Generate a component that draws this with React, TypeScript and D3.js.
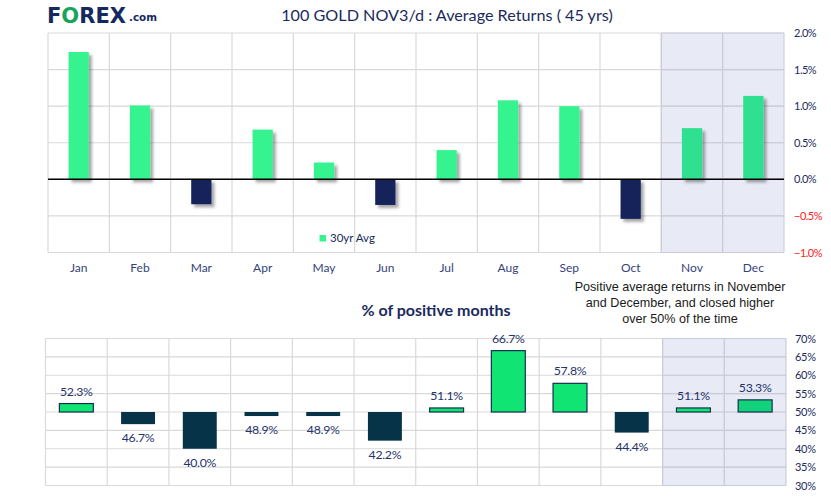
import React from "react";
import * as d3 from "d3";

const months = ["Jan", "Feb", "Mar", "Apr", "May", "Jun", "Jul", "Aug", "Sep", "Oct", "Nov", "Dec"];
const avgReturns = [1.74, 1.01, -0.34, 0.68, 0.23, -0.35, 0.40, 1.08, 1.00, -0.54, 0.70, 1.14];
const positivePct = [52.3, 46.7, 40.0, 48.9, 48.9, 42.2, 51.1, 66.7, 57.8, 44.4, 51.1, 53.3];
const topTicks = [2.0, 1.5, 1.0, 0.5, 0.0, -0.5, -1.0];
const bottomTicks = [70, 65, 60, 55, 50, 45, 40, 35, 30];
const highlighted = ["Nov", "Dec"];
const annotation = [
  "Positive average returns in November",
  "and December, and closed higher",
  "over 50% of the time",
];

const W = 831;
const H = 501;
const NAVY = "#1b2a5c";
const FONT = "Lato, 'Open Sans', sans-serif";

export default function App() {
  // top chart
  const tx = d3.scaleBand<string>().domain(months).range([48, 784]).paddingInner(0).paddingOuter(0);
  const ty = d3.scaleLinear().domain([-1, 2]).range([252.5, 33]);
  const tBarW = tx.bandwidth() * 0.33;

  // bottom chart
  const bx = d3.scaleBand<string>().domain(months).range([45.5, 786]).paddingInner(0).paddingOuter(0);
  const by = d3.scaleLinear().domain([30, 70]).range([485.5, 338.5]);
  const bBarW = bx.bandwidth() * 0.55;

  return (
    <svg width={W} height={H} style={{ position: "absolute", left: 0, top: 0, background: "#fff" }}>
      <defs>
        <filter id="shadow" x="-30%" y="-30%" width="180%" height="180%">
          <feDropShadow dx="3" dy="3" stdDeviation="1.6" floodColor="#000" floodOpacity="0.35" />
        </filter>
      </defs>
      <rect x={0} y={0} width={W} height={H} fill="#fff" />

      {/* Logo */}
      <text x={47} y={23} fontFamily="'DejaVu Sans', Verdana, sans-serif" fontWeight="bold" fontSize={21} fill="#142a5e" textLength={79} lengthAdjust="spacingAndGlyphs">
        F<tspan fill="#1aa35a">O</tspan>REX
      </text>
      <text x={129} y={21} fontFamily="'DejaVu Sans', Verdana, sans-serif" fontWeight="bold" fontSize={10.5} fill="#142a5e" textLength={28} lengthAdjust="spacingAndGlyphs">.com</text>

      {/* Title */}
      <text x={447} y={20.5} textAnchor="middle" fontFamily={FONT} fontSize={16.2} fill={NAVY}>
        100 GOLD NOV3/d : Average Returns ( 45 yrs)
      </text>

      {/* ---------- Top chart ---------- */}
      {highlighted.map((m) => (
        <rect key={"th" + m} x={tx(m)} y={ty(2)} width={tx.bandwidth()} height={ty(-1) - ty(2)} fill="#e8eaf6" />
      ))}
      {topTicks.map((t) => (
        <line key={"tg" + t} x1={48} x2={784} y1={ty(t)} y2={ty(t)} stroke="#d9d9d9" strokeWidth={1.2} />
      ))}
      {months.map((m) => (
        <line key={"tv" + m} x1={tx(m)} x2={tx(m)} y1={ty(2)} y2={ty(-1)} stroke="#d9d9d9" strokeWidth={1.2} />
      ))}
      <line x1={784} x2={784} y1={ty(2)} y2={ty(-1)} stroke="#d0d0dc" strokeWidth={1.2} />
      {topTicks.map((t) => (
        <line key={"tgs" + t} x1={tx("Nov")} x2={784} y1={ty(t)} y2={ty(t)} stroke="#c9cbdb" strokeWidth={1.2} />
      ))}
      {highlighted.map((m) => (
        <line key={"tvs" + m} x1={tx(m)} x2={tx(m)} y1={ty(2)} y2={ty(-1)} stroke="#c9cbdb" strokeWidth={1.2} />
      ))}

      {months.map((m, i) => {
        const v = avgReturns[i];
        const x = (tx(m) as number) + tx.bandwidth() / 2 - tBarW / 2;
        const y0 = ty(Math.max(0, v));
        const h = Math.abs(ty(v) - ty(0));
        const hl = highlighted.includes(m);
        const fill = v >= 0 ? (hl ? "#2fe08f" : "#35f48f") : "#12215a";
        return <rect key={"tb" + m} x={x} y={y0} width={tBarW} height={h} fill={fill} filter="url(#shadow)" />;
      })}
      <line x1={48} x2={784} y1={ty(0)} y2={ty(0)} stroke="#000" strokeWidth={1.5} />

      {topTicks.map((t) => (
        <text key={"tl" + t} x={794} y={ty(t) + 4} fontFamily={FONT} fontSize={11} fill={t < 0 ? "#ff1a1a" : NAVY} letterSpacing="-0.5">
          {d3.format(".1f")(t) + "%"}
        </text>
      ))}
      {months.map((m) => (
        <text key={"tm" + m} x={(tx(m) as number) + tx.bandwidth() / 2} y={272} textAnchor="middle" fontFamily={FONT} fontSize={12} fill="#34437a">
          {m}
        </text>
      ))}

      {/* legend */}
      <rect x={319.5} y={235} width={6.5} height={6.5} fill="#35f48f" />
      <text x={330} y={242} fontFamily={FONT} fontSize={11.5} fill={NAVY}>30yr Avg</text>

      {/* annotation */}
      {annotation.map((l, i) => (
        <text key={"an" + i} x={680} y={291 + i * 16} textAnchor="middle" fontFamily="'Liberation Sans', Arial, sans-serif" fontSize={12.6} fill="#1a1a1a">
          {l}
        </text>
      ))}

      {/* subtitle */}
      <text x={436} y={316} textAnchor="middle" fontFamily={FONT} fontWeight="bold" fontSize={16} fill={NAVY}>
        % of positive months
      </text>

      {/* ---------- Bottom chart ---------- */}
      {highlighted.map((m) => (
        <rect key={"bh" + m} x={bx(m)} y={by(70)} width={bx.bandwidth()} height={by(30) - by(70)} fill="#e8eaf6" />
      ))}
      {bottomTicks.map((t) => (
        <line key={"bg" + t} x1={45.5} x2={786} y1={by(t)} y2={by(t)} stroke="#d9d9d9" strokeWidth={1.2} />
      ))}
      {months.map((m) => (
        <line key={"bv" + m} x1={bx(m)} x2={bx(m)} y1={by(70)} y2={by(30)} stroke="#d9d9d9" strokeWidth={1.2} />
      ))}
      {bottomTicks.map((t) => (
        <line key={"bgs" + t} x1={bx("Nov")} x2={786} y1={by(t)} y2={by(t)} stroke="#c9cbdb" strokeWidth={1.2} />
      ))}
      {highlighted.map((m) => (
        <line key={"bvs" + m} x1={bx(m)} x2={bx(m)} y1={by(70)} y2={by(30)} stroke="#c9cbdb" strokeWidth={1.2} />
      ))}
      <line x1={786} x2={786} y1={by(70)} y2={by(30)} stroke="#c9cbdb" strokeWidth={1.2} />

      {months.map((m, i) => {
        const v = positivePct[i];
        const x = (bx(m) as number) + bx.bandwidth() / 2 - bBarW / 2;
        const pos = v >= 50;
        const y0 = by(Math.max(50, v));
        const h = Math.abs(by(v) - by(50));
        const hl = highlighted.includes(m);
        const fill = pos ? (hl && m === "Dec" ? "#12d37c" : "#10e574") : "#063347";
        const cx = (bx(m) as number) + bx.bandwidth() / 2;
        return (
          <g key={"bb" + m}>
            <rect x={x} y={y0} width={bBarW} height={h} fill={fill} stroke={pos ? "#14304e" : "#063347"} strokeWidth={pos ? 1.2 : 0} />
            <text
              x={cx}
              y={pos ? by(v) - 8 : by(v) + 18}
              textAnchor="middle"
              fontFamily={FONT}
              fontSize={12.3}
              fill="#24336a"
              letterSpacing="-0.3"
            >
              {d3.format(".1f")(v) + "%"}
            </text>
          </g>
        );
      })}

      {bottomTicks.map((t) => (
        <text key={"bl" + t} x={795} y={by(t) + 4} fontFamily={FONT} fontSize={11} fill={NAVY} letterSpacing="-0.3">
          {t + "%"}
        </text>
      ))}
    </svg>
  );
}
